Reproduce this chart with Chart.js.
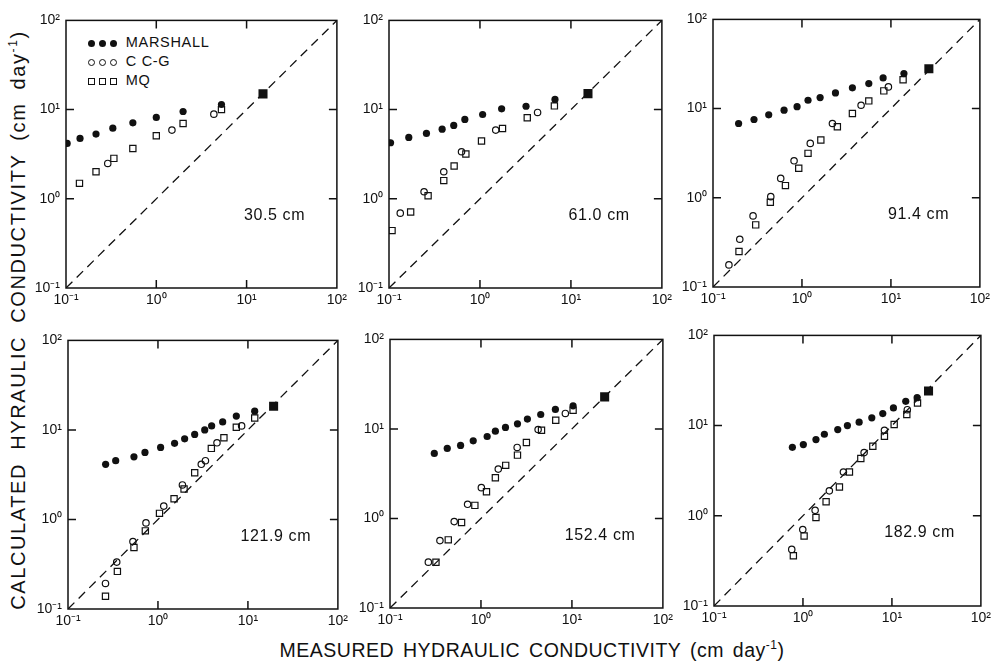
<!DOCTYPE html>
<html>
<head>
<meta charset="utf-8">
<script src="https://cdn.jsdelivr.net/npm/chart.js@4.4.1/dist/chart.umd.min.js"></script>
<style>
body { margin: 0; background: #fff; width: 992px; height: 666px; position: relative; overflow: hidden;
       font-family: 'Liberation Sans', Arial, sans-serif; color: #111; }
canvas { position: absolute; }
.ttl { position: absolute; font-size: 20px; letter-spacing: 1.6px; word-spacing: 6px; white-space: nowrap; }
.leg { position: absolute; left: 88px; font-size: 14.5px; letter-spacing: 0.7px; }
.leg div { height: 19px; line-height: 19px; white-space: nowrap; }
.m { display: inline-block; box-sizing: border-box; margin-right: 4px; vertical-align: middle; }
.fc { width: 7px; height: 7px; border-radius: 50%; background: #111; }
.oc { width: 7px; height: 7px; border-radius: 50%; border: 1.2px solid #111; }
.os { width: 7px; height: 7px; border: 1.2px solid #111; }
</style>
</head>
<body>
<div class="ttl" id="ytitle" style="left:18px;top:320px;transform:translate(-50%,-50%) rotate(-90deg);">CALCULATED HYRAULIC  CONDUCTIVITY  (cm day<sup style="font-size:12px">-1</sup>)</div>
<div class="ttl" id="xtitle" style="left:532px;top:650px;transform:translate(-50%,-50%);font-size:19.5px;letter-spacing:0.5px;word-spacing:3px;">MEASURED HYDRAULIC CONDUCTIVITY (cm day<sup style="font-size:12px">-1</sup>)</div>
<div class="leg" style="top:33px;">
  <div><span class="m fc"></span><span class="m fc"></span><span class="m fc"></span> MARSHALL</div>
  <div><span class="m oc"></span><span class="m oc"></span><span class="m oc"></span> C C-G</div>
  <div><span class="m os"></span><span class="m os"></span><span class="m os"></span> MQ</div>
</div>
<script>
// axis decades and their labels
const tickValues = [0.1, 1, 10, 100];
const tickLabels = ['10\u207B\u00B9', '10\u2070', '10\u00B9', '10\u00B2'];
const innerTicks = [1, 10];
const diag = [0.1, 100];

const depthLabels = ['30.5 cm', '61.0 cm', '91.4 cm', '121.9 cm', '152.4 cm', '182.9 cm'];

const marshall305 = [[0.103,4.18],[0.143,4.75],[0.215,5.31],[0.33,6.19],[0.55,7.11],[1.0,8.17],[1.98,9.52],[5.27,11.4]];
const ccg305 = [[0.29,2.49],[1.49,5.89],[4.34,8.89]];
const mq305 = [[0.141,1.49],[0.215,2.01],[0.339,2.84],[0.55,3.67],[1.0,5.09],[1.98,7.0],[5.27,10.0]];
const sat305 = [[15.2,15.0]];

const marshall610 = [[0.104,4.25],[0.165,4.88],[0.258,5.41],[0.384,6.04],[0.515,6.64],[0.682,7.75],[1.07,8.81],[1.73,10.2],[3.21,10.9],[6.68,13.0]];
const ccg610 = [[0.133,0.69],[0.243,1.20],[0.40,2.01],[0.627,3.37],[1.49,5.89],[4.30,9.29]];
const mq610 = [[0.108,0.44],[0.173,0.71],[0.269,1.08],[0.40,1.60],[0.52,2.33],[0.70,3.18],[1.04,4.44],[1.77,6.15],[3.31,8.09],[6.58,11.0]];
const sat610 = [[15.4,15.1]];

const marshall914 = [[0.194,6.81],[0.289,7.55],[0.423,8.52],[0.629,9.6],[0.881,10.5],[1.17,12.4],[1.60,13.3],[2.38,15.0],[3.69,17.1],[5.64,19.1],[8.17,22.1],[14.0,24.7]];
const ccg914 = [[0.151,0.177],[0.20,0.343],[0.282,0.627],[0.446,1.03],[0.577,1.65],[0.815,2.60],[1.24,4.07],[2.20,6.81],[4.62,10.9],[9.37,17.5]];
const mq914 = [[0.196,0.25],[0.302,0.497],[0.441,0.891],[0.652,1.37],[0.92,2.14],[1.17,3.15],[1.63,4.44],[2.50,6.25],[3.69,8.81],[5.64,12.2],[8.32,15.8],[13.7,21.1]];
const sat914 = [[26.7,28.0]];

const marshall1219 = [[0.262,4.13],[0.339,4.53],[0.541,5.01],[0.717,5.61],[1.07,6.38],[1.53,7.08],[1.98,7.96],[2.56,8.91],[3.31,10.0],[3.95,11.1],[5.24,12.3],[7.43,14.3],[11.9,16.2]];
const ccg1219 = [[0.261,0.193],[0.348,0.334],[0.527,0.567],[0.736,0.916],[1.16,1.41],[1.87,2.43],[3.03,4.13],[3.37,4.53],[4.53,7.18],[8.51,11.1]];
const mq1219 = [[0.261,0.139],[0.354,0.263],[0.541,0.486],[0.724,0.746],[1.04,1.17],[1.51,1.70],[1.95,2.19],[2.56,3.33],[3.92,6.22],[5.41,8.17],[7.43,10.7],[11.9,13.6]];
const sat1219 = [[19.3,18.4]];

const marshall1524 = [[0.307,5.32],[0.426,6.05],[0.597,6.54],[0.822,7.36],[1.17,8.23],[1.44,9.45],[1.86,10.4],[2.52,11.4],[3.24,12.9],[4.54,14.5],[6.58,16.5],[10.3,18.1]];
const ccg1524 = [[0.264,0.325],[0.354,0.566],[0.508,0.923],[0.713,1.44],[1.01,2.21],[1.55,3.56],[2.50,6.21],[4.25,9.86],[8.47,14.9]];
const mq1524 = [[0.32,0.325],[0.437,0.577],[0.612,0.90],[0.857,1.40],[1.15,1.99],[1.44,2.85],[1.87,3.92],[2.52,5.10],[3.16,7.06],[4.63,9.68],[6.64,12.5],[10.3,16.2]];
const sat1524 = [[22.9,22.8]];

const marshall1829 = [[0.76,5.75],[1.01,6.16],[1.40,7.0],[1.74,8.02],[2.46,9.03],[3.16,10.0],[4.28,10.9],[5.94,12.2],[7.89,13.6],[10.4,15.7],[14.3,18.6],[19.2,20.4]];
const ccg1829 = [[0.748,0.424],[0.995,0.705],[1.37,1.15],[1.98,1.89],[2.85,3.06],[4.87,5.02],[8.24,8.87],[14.9,15.0]];
const mq1829 = [[0.78,0.36],[1.03,0.598],[1.40,0.957],[1.82,1.43],[2.57,2.09],[3.33,3.06],[4.47,4.31],[6.1,5.9],[8.24,7.62],[10.6,10.3],[14.7,13.3],[19.4,17.8]];
const sat1829 = [[25.8,24.2]];

const panels = [
  [marshall305, ccg305, mq305, sat305],
  [marshall610, ccg610, mq610, sat610],
  [marshall914, ccg914, mq914, sat914],
  [marshall1219, ccg1219, mq1219, sat1219],
  [marshall1524, ccg1524, mq1524, sat1524],
  [marshall1829, ccg1829, mq1829, sat1829]
];

// plot area of each panel on the page: left, top, right, bottom
const boxes = [[66,20,337,288],[389,20,662,288],[713,19,980,287],[68,340,338,609],[390,339,663,608],[714,335,981,606]];
const labelAt = [Math.pow(10, 1.31), Math.pow(10, -0.19)];
const INK = '#111';

const frameTicks = {
  id: 'frameTicks',
  afterDraw(chart, args, opts) {
    const {ctx, chartArea: a} = chart;
    const x = chart.scales.x, y = chart.scales.y;
    ctx.save();
    ctx.strokeStyle = INK;
    ctx.lineWidth = 1.5;
    ctx.strokeRect(a.left, a.top, a.right - a.left, a.bottom - a.top);
    ctx.beginPath();
    innerTicks.forEach(v => {
      const px = x.getPixelForValue(v), py = y.getPixelForValue(v);
      ctx.moveTo(px, a.bottom); ctx.lineTo(px, a.bottom - 8);
      ctx.moveTo(px, a.top); ctx.lineTo(px, a.top + 8);
      ctx.moveTo(a.left, py); ctx.lineTo(a.left + 8, py);
      ctx.moveTo(a.right, py); ctx.lineTo(a.right - 8, py);
    });
    ctx.stroke();
    ctx.fillStyle = INK;
    ctx.font = "16px 'Liberation Sans', Arial, sans-serif";
    ctx.letterSpacing = '0.6px';
    ctx.textAlign = 'center';
    ctx.textBaseline = 'middle';
    ctx.fillText(opts.label, x.getPixelForValue(labelAt[0]), y.getPixelForValue(labelAt[1]));
    ctx.restore();
  }
};

function logAxis(pos) {
  return {
    type: 'logarithmic',
    position: pos,
    min: 0.1,
    max: 100,
    grid: { display: false, drawTicks: false },
    border: { display: false },
    afterBuildTicks: s => { s.ticks = tickValues.map(v => ({ value: v })); },
    afterFit: s => { if (pos === 'left') s.width = 56; else s.height = 30; },
    ticks: {
      color: INK,
      font: { size: 14, family: "'Liberation Sans', Arial, sans-serif" },
      padding: pos === 'left' ? 6 : 4,
      autoSkip: false,
      maxRotation: 0,
      callback: (v, i) => tickLabels[i]
    }
  };
}

const pts = arr => arr.map(p => ({ x: p[0], y: p[1] }));

panels.forEach((series, i) => {
  const [L, T, R, B] = boxes[i];
  const cv = document.createElement('canvas');
  cv.width = R - L + 70;
  cv.height = B - T + 44;
  cv.style.left = (L - 56) + 'px';
  cv.style.top = (T - 14) + 'px';
  document.body.appendChild(cv);

  new Chart(cv.getContext('2d'), {
    type: 'scatter',
    data: {
      datasets: [
        { type: 'line', data: diag.map(v => ({ x: v, y: v })), borderColor: INK, borderWidth: 1.3,
          borderDash: [9, 6], pointRadius: 0, fill: false, order: 5 },
        { data: pts(series[0]), pointStyle: 'circle', pointRadius: 3.6, backgroundColor: INK, borderColor: INK, borderWidth: 0, order: 1 },
        { data: pts(series[1]), pointStyle: 'circle', pointRadius: 3.2, backgroundColor: 'rgba(0,0,0,0)', borderColor: INK, borderWidth: 1.2, order: 2 },
        { data: pts(series[2]), pointStyle: 'rect', pointRadius: 4.4, backgroundColor: 'rgba(0,0,0,0)', borderColor: INK, borderWidth: 1.2, order: 3 },
        { data: pts(series[3]), pointStyle: 'rect', pointRadius: 6.4, backgroundColor: INK, borderColor: INK, borderWidth: 0, order: 0 }
      ]
    },
    options: {
      responsive: false,
      animation: false,
      devicePixelRatio: 1,
      layout: { padding: { top: 14, right: 14, left: 0, bottom: 0 } },
      scales: { x: logAxis('bottom'), y: logAxis('left') },
      plugins: {
        legend: { display: false },
        tooltip: { enabled: false },
        frameTicks: { label: depthLabels[i] }
      }
    },
    plugins: [frameTicks]
  });
});
</script>
</body>
</html>
